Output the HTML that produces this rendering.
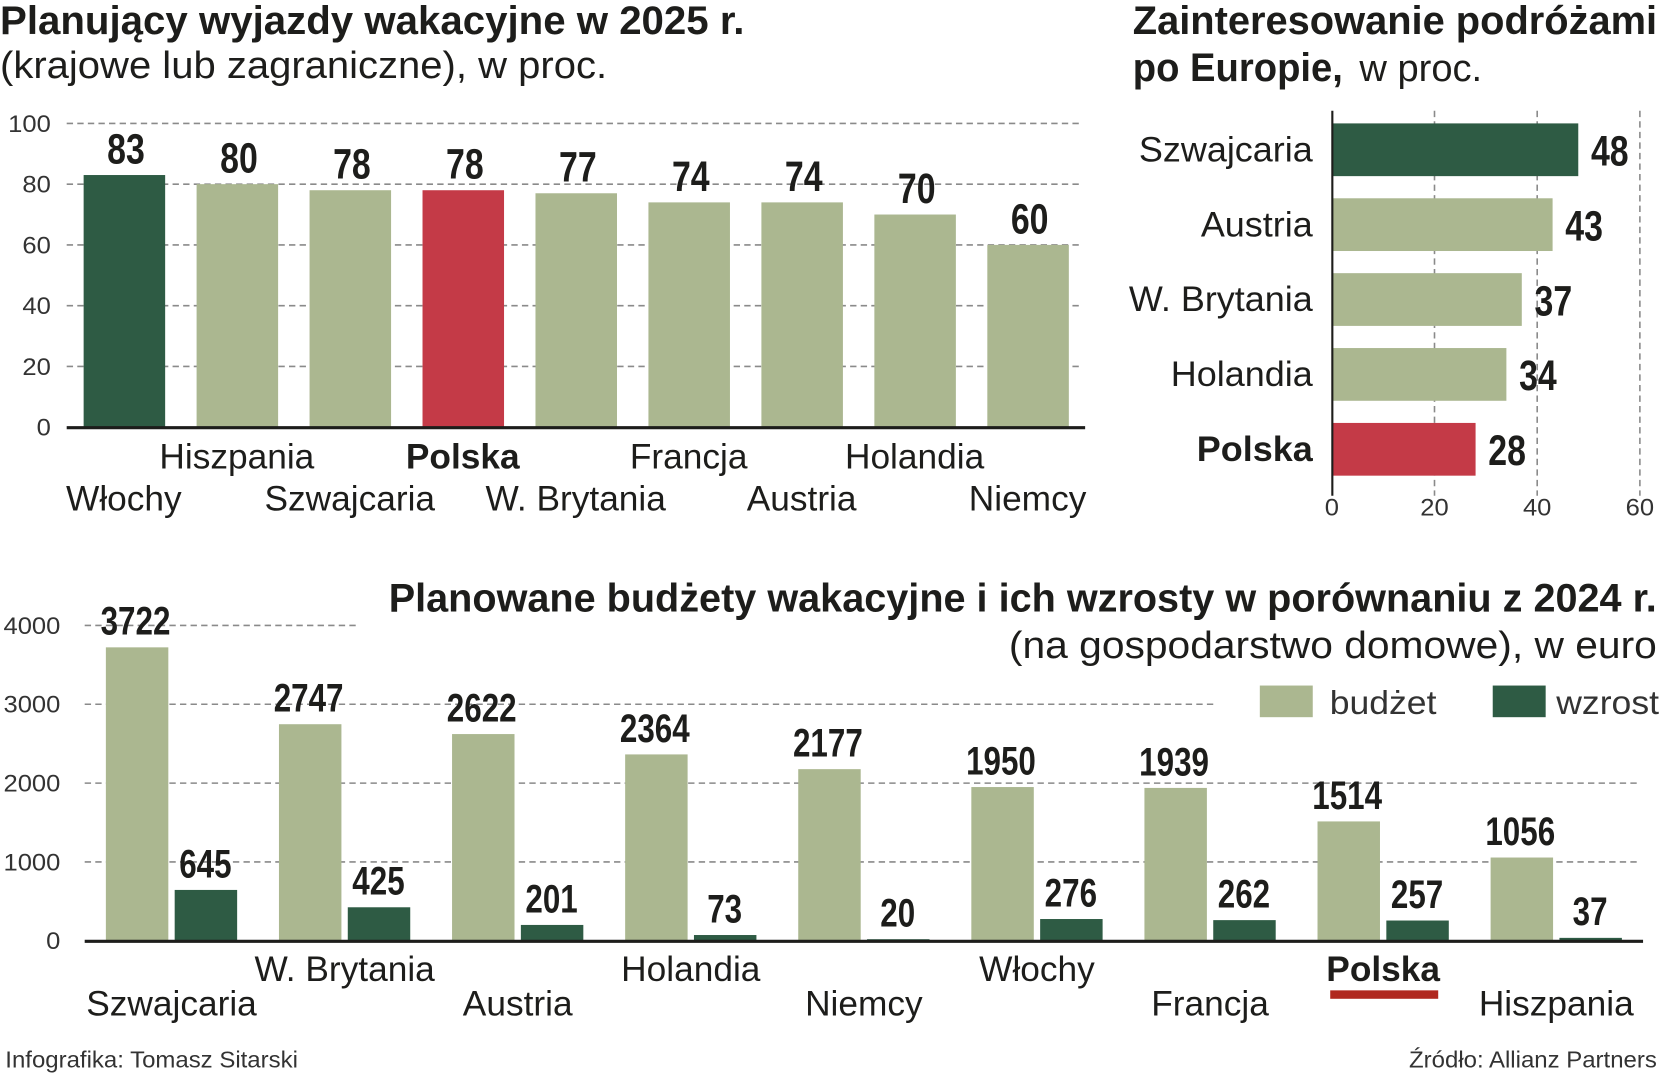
<!DOCTYPE html>
<html><head><meta charset="utf-8"><style>
html,body{margin:0;padding:0;background:#fff;}
svg{display:block;}
text{font-family:"Liberation Sans",sans-serif;fill:#1d1d1b;}
</style></head><body>
<svg id="svg" width="1660" height="1080" viewBox="0 0 1568 1024" preserveAspectRatio="none" xmlns="http://www.w3.org/2000/svg"></svg>
<script>
// Chart 1 data
const c1Categories = ["Włochy","Hiszpania","Szwajcaria","Polska","W. Brytania","Francja","Austria","Holandia","Niemcy"];
const c1Values = [83,80,78,78,77,74,74,70,60];
const c1Ticks = [0,20,40,60,80,100];
// Chart 2 data
const c2Categories = ["Szwajcaria","Austria","W. Brytania","Holandia","Polska"];
const c2Values = [48,43,37,34,28];
const c2Ticks = [0,20,40,60];
// Chart 3 data
const c3Categories = ["Szwajcaria","W. Brytania","Austria","Holandia","Niemcy","Włochy","Francja","Polska","Hiszpania"];
const c3Budget = [3722,2747,2622,2364,2177,1950,1939,1514,1056];
const c3Growth = [645,425,201,73,20,276,262,257,37];
const c3Ticks = [0,1000,2000,3000,4000];

const NS="http://www.w3.org/2000/svg";
const svg=document.getElementById('svg');
const DARK="#2e5b44", LIGHT="#abb790", RED="#c43a47";
function el(tag,attrs,parent){const e=document.createElementNS(NS,tag);for(const k in attrs)e.setAttribute(k,attrs[k]);(parent||svg).appendChild(e);return e;}
function txt(x,y,s,size,weight,anchor,sx,name,fill){
  const t=el('text',{x:0,y:0,'font-size':size,'font-weight':weight,'text-anchor':anchor,transform:`translate(${x},${y}) scale(${sx},1)`});
  if(fill)t.setAttribute('style','fill:'+fill);
  t.textContent=s;
  
  
  return t;
}

// Titles
txt(0,32,"Planujący wyjazdy wakacyjne w 2025 r.",38,"bold","start",1.0,"chart1-title");
txt(0,74,"(krajowe lub zagraniczne), w proc.",36,"normal","start",1.05,"chart1-subtitle");
txt(1070,32,"Zainteresowanie podróżami",38,"bold","start",0.99,"chart2-title");
txt(1070,77,"po Europie,",38,"bold","start",0.95,"chart2-title-line2");
txt(1284,77,"w proc.",36,"normal","start",1.0,"chart2-unit");
txt(1565,580,"Planowane budżety wakacyjne i ich wzrosty w porównaniu z 2024 r.",38,"bold","end",0.985,"chart3-title");
txt(1565,624,"(na gospodarstwo domowe), w euro",36,"normal","end",1.07,"chart3-subtitle");

// Chart 1
const y1=v=>405-v*2.88;
const x1=i=>79+i*106.7;
c1Ticks.forEach(t=>{
  if(t>0){const l=el('line',{x1:63,x2:1022,y1:y1(t),y2:y1(t),stroke:'#8a8a8a','stroke-width':1.5,'stroke-dasharray':'6,4'});
  
  }
  txt(48,y1(t)+8,String(t),23,"normal","end",1.05,"chart1-y-tick","#333");
});
c1Values.forEach((v,i)=>{
  const c=c1Categories[i];
  const fill=c==="Polska"?RED:(i===0?DARK:LIGHT);
  const r=el('rect',{x:x1(i),y:y1(v),width:77,height:y1(0)-y1(v),fill});
  
  
  txt(x1(i)+40,y1(v)-11,String(v),40,"bold","middle",0.8,"chart1-value-label");
  txt(x1(i)+38,i%2?444:484,c,33,c==="Polska"?"bold":"normal","middle",1.01,"chart1-category-label");
});
const b1=el('line',{x1:63,x2:1025,y1:405.5,y2:405.5,stroke:'#1d1d1b','stroke-width':3});



// Chart 2
const x2=v=>1258+v*4.85;
const y2=i=>117+i*71;
c2Ticks.forEach(t=>{
  if(t>0){const l=el('line',{x1:x2(t),x2:x2(t),y1:105,y2:470,stroke:'#8a8a8a','stroke-width':1.5,'stroke-dasharray':'6,4'});
  
  }
  txt(x2(t),489,String(t),23,"normal","middle",1.05,"chart2-x-tick","#333");
});
c2Values.forEach((v,i)=>{
  const c=c2Categories[i];
  const fill=c==="Polska"?RED:(i===0?DARK:LIGHT);
  const r=el('rect',{x:1259,y:y2(i),width:x2(v)-1259,height:50,fill});
  
  
  txt(x2(v)+12,y2(i)+40,String(v),40,"bold","start",0.8,"chart2-value-label");
  txt(1240,y2(i)+36,c,33,c==="Polska"?"bold":"normal","end",1.03,"chart2-category-label");
});
const a2=el('line',{x1:1258.5,x2:1258.5,y1:105,y2:470,stroke:'#1d1d1b','stroke-width':2});



// Chart 3
const y3=v=>892-v*0.07475;
const x3=i=>100+i*163.5;
const gridEnd={1000:1550,2000:1550,3000:1150,4000:337};
c3Ticks.forEach(t=>{
  if(t>0){const l=el('line',{x1:80,x2:gridEnd[t],y1:y3(t),y2:y3(t),stroke:'#8a8a8a','stroke-width':1.5,'stroke-dasharray':'6,4'});
  
  }
  txt(57,y3(t)+8,String(t),23,"normal","end",1.05,"chart3-y-tick","#333");
});
c3Budget.forEach((v,i)=>{
  const c=c3Categories[i];
  const r=el('rect',{x:x3(i),y:y3(v),width:59,height:y3(0)-y3(v),fill:LIGHT});
  
  
  txt(x3(i)+28,y3(v)-12,String(v),38,"bold","middle",0.78,"chart3-budget-value");
  const g=c3Growth[i];
  const r2=el('rect',{x:x3(i)+65,y:y3(g),width:59,height:y3(0)-y3(g),fill:DARK});
  
  
  txt(x3(i)+94,y3(g)-12,String(g),38,"bold","middle",0.78,"chart3-growth-value");
  const row1=(i%2===1)||c==="Polska";
  txt(x3(i)+62,row1?930:963,c,33,c==="Polska"?"bold":"normal","middle",1.01,"chart3-category-label");
  if(c==="Polska"){
    const u=el('rect',{x:x3(i)+12,y:939,width:102,height:8,fill:'#b0281f'});
    
    
  }
});
const b3=el('line',{x1:80,x2:1552,y1:892.5,y2:892.5,stroke:'#1d1d1b','stroke-width':3});



// Legend
const lg1=el('rect',{x:1190,y:650,width:50,height:30,fill:LIGHT});


txt(1256,677,"budżet",32,"normal","start",1.05,"legend-budget-label","#333");
const lg2=el('rect',{x:1410,y:650,width:50,height:30,fill:DARK});


txt(1470,677,"wzrost",32,"normal","start",1.05,"legend-growth-label","#333");

// Footer
txt(5,1012,"Infografika: Tomasz Sitarski",22,"normal","start",1.03,"credit","#333");
txt(1565,1012,"Źródło: Allianz Partners",22,"normal","end",1.03,"source","#333");
</script>
</body></html>
